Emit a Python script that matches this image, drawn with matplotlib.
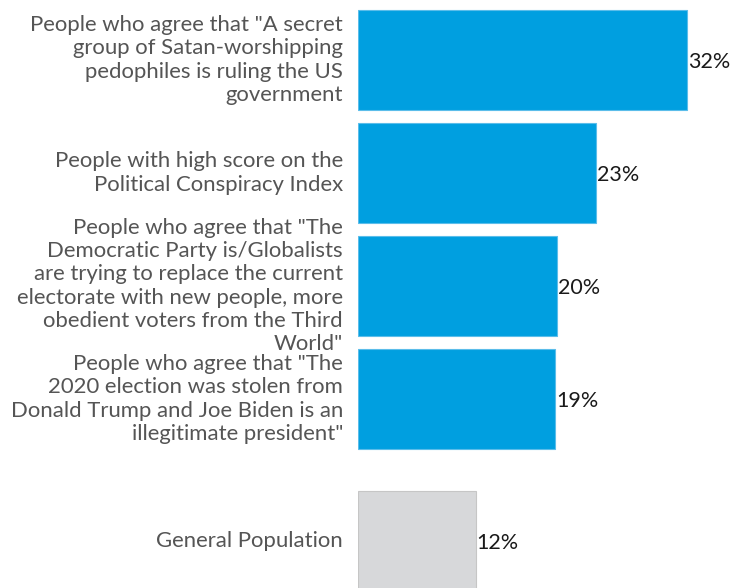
import matplotlib.pyplot as plt

# data
labels = [
    'People who agree that "A secret\ngroup of Satan-worshipping\npedophiles is ruling the US\ngovernment',
    'People with high score on the\nPolitical Conspiracy Index',
    'People who agree that "The\nDemocratic Party is/Globalists\nare trying to replace the current\nelectorate with new people, more\nobedient voters from the Third\nWorld"',
    'People who agree that "The\n2020 election was stolen from\nDonald Trump and Joe Biden is an\nillegitimate president"',
    'General Population',
]
values = [32.4, 23.45, 19.55, 19.4, 11.55]
colors = ["#009FE0", "#009FE0", "#009FE0", "#009FE0", "#D7D8DA"]
edges = ["#5BBDEA", "#5BBDEA", "#5BBDEA", "#5BBDEA", "#C6C6C6"]

# bar positions (gap before the last one)
ypos = [0, 1, 2, 3, 4.257]

fig = plt.figure(figsize=(7.3, 5.88), dpi=100)
ax = fig.add_axes([358.3 / 730, 0, 1 - 358.3 / 730, 1])

ax.barh(ypos, values, height=0.885, color=colors, edgecolor=edges, linewidth=0.8)

for y, v, lab in zip(ypos, values, labels):
    ax.annotate(f"{v:.0f}%", (v, y), xytext=(0.5, -1.5), textcoords="offset points",
                ha="left", va="center", fontsize=15.5, family="Lato", color="#1a1a1a")
    ax.annotate(lab, (0, y), xytext=(-11, 0), textcoords="offset points",
                ha="right", va="center", multialignment="right", fontsize=15.9,
                family="Lato", color="#555555", linespacing=1.21, annotation_clip=False)

ax.set_xlim(0, 36.6)
ax.set_ylim(4.673, -0.531)
ax.axis("off")

fig.savefig("out.png", dpi=100)
